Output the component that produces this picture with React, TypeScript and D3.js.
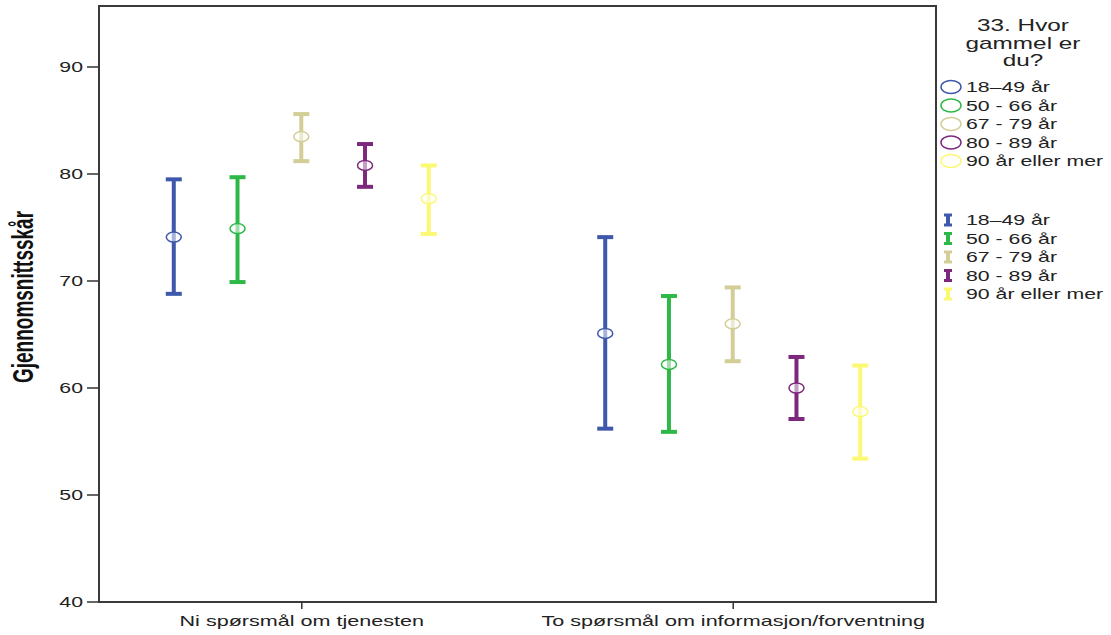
import React from "react";
import * as d3 from "d3";

const categories = ["Ni spørsmål om tjenesten", "To spørsmål om informasjon/forventning"];
const ageGroups = ["18–49 år", "50 - 66 år", "67 - 79 år", "80 - 89 år", "90 år eller mer"];
const groupColors = ["#3e58ac", "#2eb848", "#d3ce97", "#7c287d", "#fbf873"];

// mean and 95% CI per category, one entry per age group
const meanNi = [74.1, 74.9, 83.5, 80.8, 77.7];
const lowNi = [68.8, 69.9, 81.2, 78.8, 74.4];
const highNi = [79.5, 79.7, 85.6, 82.8, 80.8];
const meanTo = [65.1, 62.2, 66.0, 60.0, 57.8];
const lowTo = [56.2, 55.9, 62.5, 57.1, 53.4];
const highTo = [74.1, 68.6, 69.4, 62.9, 62.1];

const yTicks = [40, 50, 60, 70, 80, 90];
const legendTitle = ["33. Hvor", "gammel er", "du?"];

const SX = 1.52; // the original is stretched sideways

function SText({ x, y, anchor = "start", size = 15, weight = "normal", fill = "#222", rotate = 0, children }) {
  return (
    <text
      transform={`translate(${x},${y}) scale(${SX},1) rotate(${rotate})`}
      textAnchor={anchor}
      fontSize={size}
      fontWeight={weight}
      fill={fill}
      fontFamily="'Liberation Sans', Arial, sans-serif"
    >
      {children}
    </text>
  );
}

export default function App() {
  const left = 99, right = 936, top = 6, bottom = 602;
  const y = d3.scaleLinear().domain([40, 95.7]).range([bottom, top]);
  const x = d3.scalePoint().domain(categories).range([left, right]).padding(0.47);
  const inner = d3.scalePoint().domain(ageGroups).range([-128, 127]);

  const rows = [
    { cat: categories[0], mean: meanNi, low: lowNi, high: highNi },
    { cat: categories[1], mean: meanTo, low: lowTo, high: highTo },
  ];

  return (
    <svg width={1111} height={635} style={{ position: "absolute", left: 0, top: 0, background: "#fff" }}>
      <rect x={left} y={top} width={right - left} height={bottom - top} fill="none" stroke="#3a3a3a" strokeWidth={2} />

      {yTicks.map((t) => (
        <g key={t}>
          <line x1={87} x2={left} y1={y(t)} y2={y(t)} stroke="#333" strokeWidth={1.5} />
          <SText x={83} y={y(t) + 5} anchor="end" size={14}>{t}</SText>
        </g>
      ))}

      {categories.map((c) => (
        <g key={c}>
          <line x1={x(c)} x2={x(c)} y1={bottom} y2={bottom + 7} stroke="#333" strokeWidth={1.5} />
          <SText x={x(c)} y={626} anchor="middle" size={14.2}>{c}</SText>
        </g>
      ))}

      <SText x={33} y={297} anchor="middle" size={19} weight="bold" fill="#111" rotate={-90}>
        Gjennomsnittsskår
      </SText>

      {rows.map((r) =>
        ageGroups.map((g, i) => {
          const cx = x(r.cat) + inner(g);
          const col = groupColors[i];
          return (
            <g key={r.cat + g}>
              <line x1={cx} x2={cx} y1={y(r.low[i])} y2={y(r.high[i])} stroke={col} strokeWidth={4} />
              <line x1={cx - 8} x2={cx + 8} y1={y(r.low[i])} y2={y(r.low[i])} stroke={col} strokeWidth={4} />
              <line x1={cx - 8} x2={cx + 8} y1={y(r.high[i])} y2={y(r.high[i])} stroke={col} strokeWidth={4} />
              <ellipse cx={cx} cy={y(r.mean[i])} rx={7.5} ry={5} fill="rgba(255,255,255,0.55)" stroke={col} strokeWidth={1.5} />
            </g>
          );
        })
      )}

      {legendTitle.map((t, i) => (
        <SText key={t} x={1023} y={31 + i * 17.5} anchor="middle" size={16}>{t}</SText>
      ))}

      {ageGroups.map((g, i) => {
        const cy = 87 + i * 18.5;
        return (
          <g key={"c" + g}>
            <ellipse cx={951} cy={cy} rx={10} ry={6.5} fill="none" stroke={groupColors[i]} strokeWidth={1.5} />
            <SText x={966} y={cy + 5} size={14}>{g}</SText>
          </g>
        );
      })}

      {ageGroups.map((g, i) => {
        const cy = 220 + i * 18.5;
        const col = groupColors[i];
        return (
          <g key={"e" + g}>
            <line x1={948} x2={948} y1={cy - 6} y2={cy + 6} stroke={col} strokeWidth={4} />
            <line x1={944} x2={952} y1={cy - 5} y2={cy - 5} stroke={col} strokeWidth={3} />
            <line x1={944} x2={952} y1={cy + 5} y2={cy + 5} stroke={col} strokeWidth={3} />
            <SText x={966} y={cy + 5} size={14}>{g}</SText>
          </g>
        );
      })}
    </svg>
  );
}
